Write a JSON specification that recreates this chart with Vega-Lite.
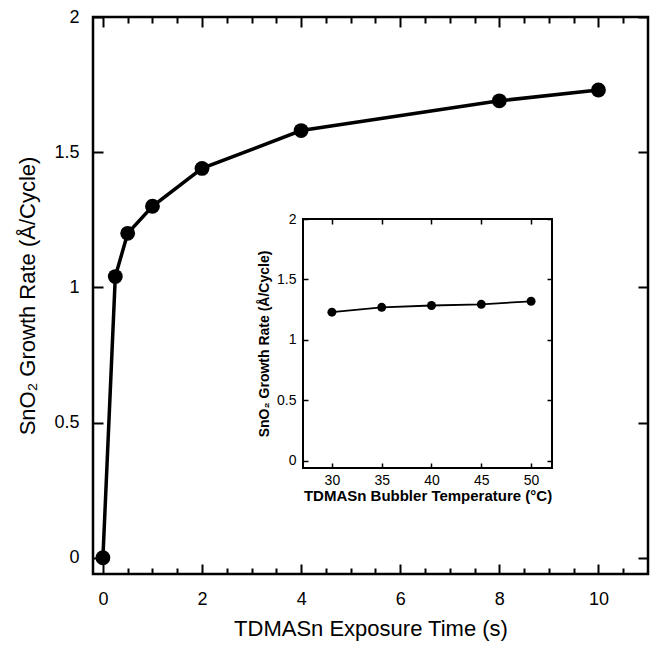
{
  "$schema": "https://vega.github.io/schema/vega-lite/v6.json",
  "width": 555,
  "height": 557,
  "autosize": {"type": "none"},
  "padding": {"left": 93, "top": 17, "right": 3, "bottom": 72},
  "background": "white",
  "config": {
    "view": {"stroke": "black", "strokeWidth": 2.5},
    "font": "Liberation Sans",
    "axis": {
      "grid": false,
      "domain": false,
      "tickColor": "black",
      "labelColor": "black",
      "titleColor": "black",
      "labelFont": "Liberation Sans",
      "titleFont": "Liberation Sans"
    }
  },
  "datasets": {
    "exposure": [
      {"time": 0, "rate": 0},
      {"time": 0.25, "rate": 1.04},
      {"time": 0.5, "rate": 1.2},
      {"time": 1, "rate": 1.3},
      {"time": 2, "rate": 1.44},
      {"time": 4, "rate": 1.58},
      {"time": 8, "rate": 1.69},
      {"time": 10, "rate": 1.73}
    ],
    "bubbler": [
      {"temp": 30, "rate": 1.23},
      {"temp": 35, "rate": 1.27},
      {"temp": 40, "rate": 1.285},
      {"temp": 45, "rate": 1.295},
      {"temp": 50, "rate": 1.32}
    ]
  },
  "resolve": {
    "scale": {"x": "independent", "y": "independent"},
    "axis": {"x": "independent", "y": "independent"}
  },
  "layer": [
    {
      "data": {"name": "exposure"},
      "mark": {
        "type": "line",
        "color": "black",
        "strokeWidth": 3.5,
        "point": {"filled": true, "color": "black", "size": 220, "opacity": 1}
      },
      "encoding": {
        "x": {
          "field": "time",
          "type": "quantitative",
          "scale": {"domain": [-0.2, 11], "nice": false, "zero": false},
          "axis": {
            "orient": "bottom",
            "offset": -10,
            "values": [0, 2, 4, 6, 8, 10],
            "format": "d",
            "tickSize": 10,
            "tickWidth": 2,
            "labelFontSize": 18,
            "labelPadding": 16,
            "title": "TDMASn Exposure Time (s)",
            "titleFontSize": 22,
            "titleFontWeight": "normal",
            "titlePadding": 10
          }
        },
        "y": {
          "field": "rate",
          "type": "quantitative",
          "scale": {"domain": [-0.06, 2], "nice": false, "zero": false},
          "axis": {
            "orient": "left",
            "offset": -10,
            "values": [0, 0.5, 1, 1.5, 2],
            "format": "~r",
            "tickSize": 10,
            "tickWidth": 2,
            "labelFontSize": 18,
            "labelPadding": 14,
            "title": "SnO₂ Growth Rate (Å/Cycle)",
            "titleFontSize": 22,
            "titleFontWeight": "normal",
            "titlePadding": 14
          }
        }
      }
    },
    {
      "data": {"name": "exposure"},
      "mark": {"type": "point", "opacity": 0},
      "encoding": {
        "x": {
          "field": "time",
          "type": "quantitative",
          "scale": {"domain": [-0.2, 11], "nice": false, "zero": false},
          "axis": {
            "orient": "bottom",
            "offset": -6,
            "values": [0.5, 1, 1.5, 2.5, 3, 3.5, 4.5, 5, 5.5, 6.5, 7, 7.5, 8.5, 9, 9.5, 10.5],
            "tickSize": 6,
            "tickWidth": 2,
            "labels": false,
            "title": null
          }
        },
        "y": {
          "field": "rate",
          "type": "quantitative",
          "scale": {"domain": [-0.06, 2], "nice": false, "zero": false},
          "axis": {
            "orient": "right",
            "offset": -10,
            "values": [0, 0.5, 1, 1.5, 2],
            "tickSize": 10,
            "tickWidth": 2,
            "labels": false,
            "title": null
          }
        }
      }
    },
    {
      "data": {"name": "exposure"},
      "mark": {"type": "point", "opacity": 0},
      "encoding": {
        "x": {
          "field": "time",
          "type": "quantitative",
          "scale": {"domain": [-0.2, 11], "nice": false, "zero": false},
          "axis": {
            "orient": "top",
            "offset": -10,
            "values": [0, 2, 4, 6, 8, 10],
            "tickSize": 10,
            "tickWidth": 2,
            "labels": false,
            "title": null
          }
        }
      }
    },
    {
      "data": {"name": "exposure"},
      "mark": {"type": "point", "opacity": 0},
      "encoding": {
        "x": {
          "field": "time",
          "type": "quantitative",
          "scale": {"domain": [-0.2, 11], "nice": false, "zero": false},
          "axis": {
            "orient": "top",
            "offset": -6,
            "values": [0.5, 1, 1.5, 2.5, 3, 3.5, 4.5, 5, 5.5, 6.5, 7, 7.5, 8.5, 9, 9.5, 10.5],
            "tickSize": 6,
            "tickWidth": 2,
            "labels": false,
            "title": null
          }
        }
      }
    },
    {
      "data": {"values": [{}]},
      "mark": {"type": "rect", "fill": null, "stroke": "black", "strokeWidth": 2},
      "encoding": {
        "x": {
          "datum": 27.1,
          "type": "quantitative",
          "scale": {"domain": [27.1, 52.1], "range": [210, 459], "nice": false, "zero": false},
          "axis": null
        },
        "x2": {"datum": 52.1},
        "y": {
          "datum": -0.058,
          "type": "quantitative",
          "scale": {"domain": [-0.058, 2], "range": [451, 202], "nice": false, "zero": false},
          "axis": null
        },
        "y2": {"datum": 2}
      }
    },
    {
      "data": {"name": "bubbler"},
      "mark": {
        "type": "line",
        "color": "black",
        "strokeWidth": 1.8,
        "point": {"filled": true, "color": "black", "size": 80, "opacity": 1}
      },
      "encoding": {
        "x": {
          "field": "temp",
          "type": "quantitative",
          "scale": {"domain": [27.1, 52.1], "range": [210, 459], "nice": false, "zero": false},
          "axis": {
            "orient": "bottom",
            "offset": -111,
            "values": [30, 35, 40, 45, 50],
            "tickSize": 5,
            "tickWidth": 1.5,
            "labelFontSize": 14,
            "labelPadding": 5,
            "title": "TDMASn Bubbler Temperature (°C)",
            "titleFontSize": 15,
            "titleFontWeight": "bold",
            "titlePadding": 1
          }
        },
        "y": {
          "field": "rate",
          "type": "quantitative",
          "scale": {"domain": [-0.058, 2], "range": [451, 202], "nice": false, "zero": false},
          "axis": {
            "orient": "left",
            "offset": -215,
            "values": [0, 0.5, 1, 1.5, 2],
            "format": "~r",
            "tickSize": 5,
            "tickWidth": 1.5,
            "labelFontSize": 14,
            "labelPadding": 7,
            "title": "SnO₂ Growth Rate (Å/Cycle)",
            "titleFontSize": 14,
            "titleFontWeight": "bold",
            "titlePadding": 5
          }
        }
      }
    },
    {
      "data": {"name": "bubbler"},
      "mark": {"type": "point", "opacity": 0},
      "encoding": {
        "x": {
          "field": "temp",
          "type": "quantitative",
          "scale": {"domain": [27.1, 52.1], "range": [210, 459], "nice": false, "zero": false},
          "axis": {
            "orient": "top",
            "offset": -207,
            "values": [30, 35, 40, 45, 50],
            "tickSize": 5,
            "tickWidth": 1.5,
            "labels": false,
            "title": null
          }
        },
        "y": {
          "field": "rate",
          "type": "quantitative",
          "scale": {"domain": [-0.058, 2], "range": [451, 202], "nice": false, "zero": false},
          "axis": {
            "orient": "right",
            "offset": -101,
            "values": [0, 0.5, 1, 1.5, 2],
            "tickSize": 5,
            "tickWidth": 1.5,
            "labels": false,
            "title": null
          }
        }
      }
    }
  ]
}
